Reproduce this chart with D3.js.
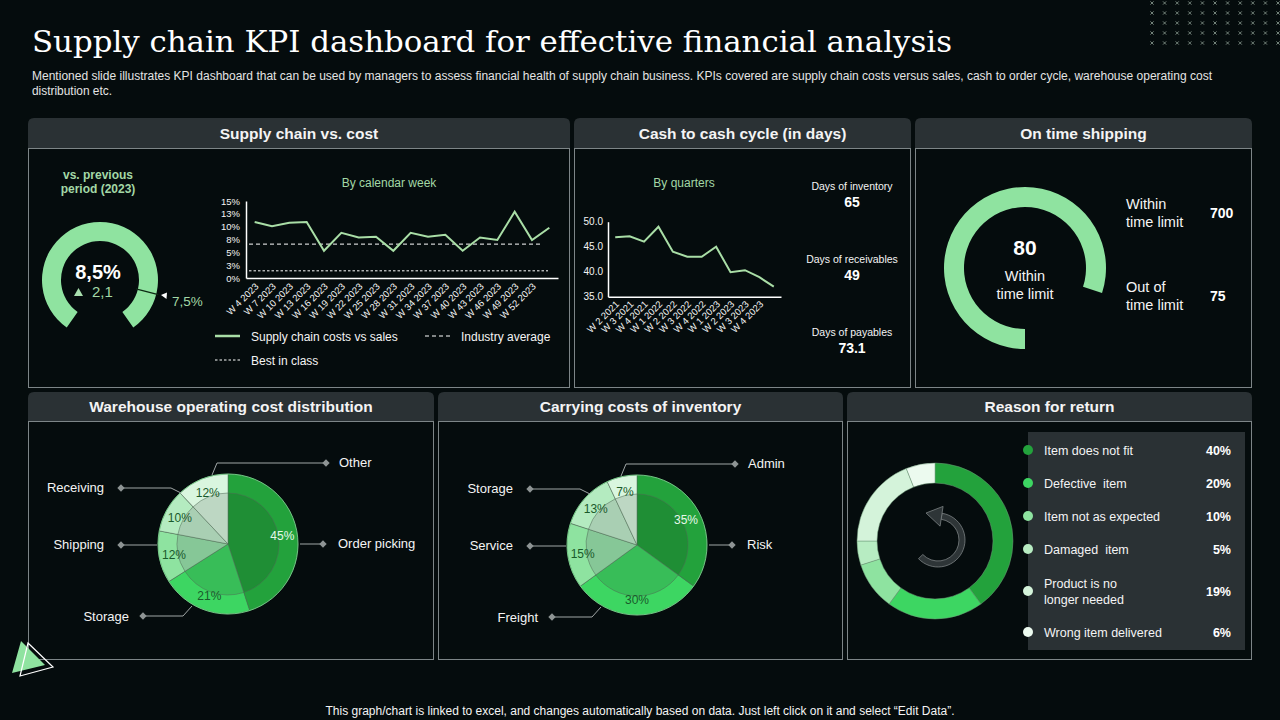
<!DOCTYPE html>
<html><head><meta charset="utf-8">
<script src="https://cdn.jsdelivr.net/npm/d3@7"></script>
<style>
html,body{margin:0;padding:0;background:#050c0d;}
svg{display:block;font-family:"Liberation Sans",Arial,sans-serif;}
</style></head><body>
<svg id="c" width="1280" height="720"></svg>
<script>
// ---------------- DATA ----------------
const titleText = "Supply chain KPI dashboard for effective financial analysis";
const subtitleLines = [
  "Mentioned slide illustrates KPI dashboard that can be used by managers to assess financial health of supply chain business. KPIs covered are supply chain costs versus sales, cash to order cycle,  warehouse operating cost",
  "distribution etc."
];
const footnote = "This graph/chart is linked to excel,  and changes automatically based on data. Just left click on it and select \u201CEdit Data\u201D.";
const panelTitles = ["Supply chain vs. cost", "Cash to cash cycle (in days)", "On time shipping",
  "Warehouse operating cost distribution", "Carrying costs of inventory", "Reason for return"];

// Supply chain vs cost
const gaugeValueLabel = "8,5%";
const gaugeChangeLabel = "2,1";
const gaugeTargetLabel = "7,5%";
const gaugeCaption = ["vs. previous", "period (2023)"];
const supplyWeeks = ["W 4 2023","W 7 2023","W 10 2023","W 13 2023","W 16 2023","W 19 2023","W 22 2023",
  "W 25 2023","W 28 2023","W 31 2023","W 34 2023","W 37 2023","W 40 2023","W 43 2023","W 46 2023",
  "W 49 2023","W 52 2023",""];
const supplyCostVsSales = [10.9,10.1,10.75,10.9,5.3,8.8,7.9,8.05,5.3,8.8,8.05,8.4,5.3,7.9,7.4,12.9,7.4,9.8];
const industryAverage = 6.6;
const bestInClass = 1.4;
const supplyTicks = [0,2.5,5,7.5,10,12.5,15];
const supplyTickLabels = ["0%","3%","5%","8%","10%","13%","15%"];
const supplyLegend = ["Supply chain costs vs sales","Industry average","Best in class"];

// Cash to cash cycle
const cashQuarters = ["W 2 2021","W 3 2021","W 4 2021","W 1 2022","W 2 2022","W 3 2022","W 4 2022",
  "W 1 2023","W 2 2023","W 3 2023","W 4 2023",""];
const cashDays = [46.9,47.1,46.0,49.0,44.0,43.0,43.0,45.0,39.9,40.3,38.9,37.0];
const cashTicks = [35,40,45,50];
const cashTickLabels = ["35.0","40.0","45.0","50.0"];
const cashKpiLabels = ["Days of inventory","Days of receivables","Days of payables"];
const cashKpiValues = ["65","49","73.1"];

// On time shipping
const shippingPct = 80;
const shippingLabels = [["Within","time limit"],["Out of","time limit"]];
const shippingValues = [700, 75];

// Warehouse operating cost distribution
const warehouseCats = ["Order picking","Storage","Shipping","Receiving","Other"];
const warehouseVals = [45,21,12,10,12];
// Carrying costs of inventory
const carryingCats = ["Risk","Freight","Service","Storage","Admin"];
const carryingVals = [35,30,15,13,7];
// Reason for return
const returnCats = ["Item does not fit","Defective  item","Item not as expected","Damaged  item","Product is no longer needed","Wrong item delivered"];
const returnVals = [40,20,10,5,19,6];

// ---------------- STYLE ----------------
const BG = "#050c0d", HEAD = "#2a3134", BORDER = "#7d8587", WHITE = "#f4f4f4";
const LGREEN = "#8fe3a0", TGREEN = "#a3d8a6", LINEGREEN = "#a9dea6";
const outerCols = ["#23a23c","#3dd662","#8ee3a0","#b4ebc0","#d9f6df"];
const innerCols = ["#1f8e35","#38bd58","#86c797","#a9cfb3","#bdd7c3"];
const returnCols = ["#23a23c","#3dd662","#8ee3a0","#b7ecc2","#d4f3da","#ecfaef"];

const svg = d3.select("#c");
svg.append("rect").attr("width",1280).attr("height",720).attr("fill",BG);

// decoration: grid of x marks
const decoCols = d3.range(11), decoRows = d3.range(5);
const deco = svg.append("g").attr("stroke","#8fa196").attr("stroke-width",0.8);
decoRows.forEach(r => decoCols.forEach(c => {
  const cx = 1152 + c*12.6, cy = 3 + r*10;
  deco.append("line").attr("x1",cx-1.6).attr("y1",cy-1.6).attr("x2",cx+1.6).attr("y2",cy+1.6);
  deco.append("line").attr("x1",cx-1.6).attr("y1",cy+1.6).attr("x2",cx+1.6).attr("y2",cy-1.6);
}));

// header
svg.append("text").attr("x",32).attr("y",52).text(titleText)
  .attr("fill","#ffffff").attr("font-family","'DejaVu Serif',serif").attr("font-size",30)
  .attr("textLength",920).attr("lengthAdjust","spacingAndGlyphs");
svg.append("text").attr("x",32).attr("y",80).text(subtitleLines[0])
  .attr("fill","#e4e4e4").attr("font-size",12).attr("textLength",1180).attr("lengthAdjust","spacingAndGlyphs");
svg.append("text").attr("x",32).attr("y",95).text(subtitleLines[1])
  .attr("fill","#e4e4e4").attr("font-size",12).attr("textLength",80).attr("lengthAdjust","spacingAndGlyphs");

// panels
const panels = [
  {x:28,y:118,w:542,hh:30,bh:240},{x:574,y:118,w:337,hh:30,bh:240},{x:915,y:118,w:337,hh:30,bh:240},
  {x:28,y:392,w:406,hh:29,bh:239},{x:438,y:392,w:405,hh:29,bh:239},{x:847,y:392,w:405,hh:29,bh:239}
];
panels.forEach((p,i) => {
  const r = 6;
  svg.append("path").attr("fill",HEAD)
    .attr("d",`M${p.x},${p.y+p.hh}V${p.y+r}Q${p.x},${p.y} ${p.x+r},${p.y}H${p.x+p.w-r}Q${p.x+p.w},${p.y} ${p.x+p.w},${p.y+r}V${p.y+p.hh}Z`);
  svg.append("rect").attr("x",p.x+0.5).attr("y",p.y+p.hh+0.5).attr("width",p.w-1).attr("height",p.bh-1)
    .attr("fill",BG).attr("stroke",BORDER).attr("stroke-width",1);
  svg.append("text").attr("x",p.x+p.w/2).attr("y",p.y+p.hh/2+5.5).attr("text-anchor","middle")
    .attr("fill",WHITE).attr("font-weight","bold").attr("font-size",15.5).text(panelTitles[i]);
});

// ---------------- Panel 1: gauge ----------------
const gC = [100,280];
const gauge = svg.append("g").attr("transform",`translate(${gC[0]},${gC[1]})`);
const deg = Math.PI/180;
gauge.append("path").attr("fill",LGREEN)
  .attr("d",d3.arc()({innerRadius:39,outerRadius:58,startAngle:-145*deg,endAngle:145*deg}));
const tA = 104*deg;
gauge.append("line").attr("x1",37*Math.sin(tA)).attr("y1",-37*Math.cos(tA))
  .attr("x2",60*Math.sin(tA)).attr("y2",-60*Math.cos(tA)).attr("stroke","#0d2a14").attr("stroke-width",1.3);
svg.append("path").attr("d","M161,295L167,292.5L166.5,299Z").attr("fill","#ffffff");
svg.append("text").attr("x",172).attr("y",306).attr("fill",TGREEN).attr("font-size",13.5).text(gaugeTargetLabel);
svg.append("text").attr("x",98).attr("y",279).attr("text-anchor","middle").attr("fill","#ffffff")
  .attr("font-weight","bold").attr("font-size",20).text(gaugeValueLabel);
svg.append("path").attr("d","M74,296L83,296L78.5,288Z").attr("fill","#a8dfae");
svg.append("text").attr("x",92).attr("y",297).attr("fill",TGREEN).attr("font-size",15).text(gaugeChangeLabel);
gaugeCaption.forEach((t,i)=>svg.append("text").attr("x",98).attr("y",179+i*14).attr("text-anchor","middle")
  .attr("fill",TGREEN).attr("font-weight","bold").attr("font-size",12).text(t));

// ---------------- Panel 1: line chart ----------------
svg.append("text").attr("x",389).attr("y",187).attr("text-anchor","middle").attr("fill",TGREEN)
  .attr("font-size",12).text("By calendar week");
const sx = d3.scalePoint().domain(supplyWeeks).range([246,558]).padding(0.5);
const sy = d3.scaleLinear().domain([0,15]).range([278,201]);
const sgL = svg.append("g").attr("transform","translate(246,0)")
  .call(d3.axisLeft(sy).tickValues(supplyTicks).tickFormat((d,i)=>supplyTickLabels[i]).tickSize(0).tickPadding(6));
const sgB = svg.append("g").attr("transform","translate(0,278)")
  .call(d3.axisBottom(sx).tickSize(0));
[sgL,sgB].forEach(g=>{g.select(".domain").attr("stroke","#ffffff").attr("stroke-width",1.5);
  g.selectAll("text").attr("fill",WHITE).attr("font-size",9.5).attr("font-family","'Liberation Sans',Arial,sans-serif");});
sgB.selectAll(".tick text").attr("x",0).attr("y",0).attr("dy",0)
  .attr("transform","translate(4,9) rotate(-45)").style("text-anchor","end");
svg.append("line").attr("x1",249).attr("x2",540).attr("y1",sy(industryAverage)).attr("y2",sy(industryAverage))
  .attr("stroke","#ffffff").attr("stroke-width",1).attr("stroke-dasharray","4,3");
svg.append("line").attr("x1",249).attr("x2",548).attr("y1",sy(bestInClass)).attr("y2",sy(bestInClass))
  .attr("stroke","#ffffff").attr("stroke-width",1).attr("stroke-dasharray","2.5,2");
svg.append("path").datum(supplyCostVsSales)
  .attr("d",d3.line().x((d,i)=>sx(supplyWeeks[i])).y(d=>sy(d)))
  .attr("fill","none").attr("stroke",LINEGREEN).attr("stroke-width",2);
// legend
svg.append("line").attr("x1",215).attr("x2",240).attr("y1",336).attr("y2",336).attr("stroke",LINEGREEN).attr("stroke-width",2.5);
svg.append("text").attr("x",251).attr("y",341).attr("fill",WHITE).attr("font-size",12).text(supplyLegend[0]);
svg.append("line").attr("x1",425).attr("x2",450).attr("y1",336).attr("y2",336).attr("stroke","#fff").attr("stroke-dasharray","4,3");
svg.append("text").attr("x",461).attr("y",341).attr("fill",WHITE).attr("font-size",12).text(supplyLegend[1]);
svg.append("line").attr("x1",215).attr("x2",240).attr("y1",360).attr("y2",360).attr("stroke","#fff").attr("stroke-dasharray","2.5,2");
svg.append("text").attr("x",251).attr("y",365).attr("fill",WHITE).attr("font-size",12).text(supplyLegend[2]);

// ---------------- Panel 2: cash cycle ----------------
svg.append("text").attr("x",684).attr("y",187).attr("text-anchor","middle").attr("fill",TGREEN)
  .attr("font-size",12).text("By quarters");
const cx = d3.scalePoint().domain(cashQuarters).range([608,781]).padding(0.5);
const cy = d3.scaleLinear().domain([35,50]).range([296.7,221.7]);
const cgL = svg.append("g").attr("transform","translate(608,0)")
  .call(d3.axisLeft(cy).tickValues(cashTicks).tickFormat((d,i)=>cashTickLabels[i]).tickSize(0).tickPadding(5));
const cgB = svg.append("g").attr("transform","translate(0,296.7)").call(d3.axisBottom(cx).tickSize(0));
[cgL,cgB].forEach(g=>{g.select(".domain").attr("stroke","#ffffff").attr("stroke-width",1.5);
  g.selectAll("text").attr("fill",WHITE).attr("font-size",9.5).attr("font-family","'Liberation Sans',Arial,sans-serif");});
cgL.selectAll("text").attr("font-size",10);
cgB.selectAll(".tick text").attr("x",0).attr("y",0).attr("dy",0)
  .attr("transform","translate(4,8) rotate(-45)").style("text-anchor","end");
svg.append("path").datum(cashDays)
  .attr("d",d3.line().x((d,i)=>cx(cashQuarters[i])).y(d=>cy(d)))
  .attr("fill","none").attr("stroke",LINEGREEN).attr("stroke-width",2);
const kpiY = [190,263,336];
cashKpiLabels.forEach((t,i)=>{
  svg.append("text").attr("x",852).attr("y",kpiY[i]).attr("text-anchor","middle").attr("fill",WHITE).attr("font-size",10.5).text(t);
  svg.append("text").attr("x",852).attr("y",kpiY[i]+17).attr("text-anchor","middle").attr("fill","#ffffff")
    .attr("font-weight","bold").attr("font-size",14).text(cashKpiValues[i]);
});

// ---------------- Panel 3: on-time shipping ----------------
const osC = [1025,268];
svg.append("path").attr("transform",`translate(${osC[0]},${osC[1]})`).attr("fill",LGREEN)
  .attr("d",d3.arc()({innerRadius:61,outerRadius:81,startAngle:Math.PI,endAngle:Math.PI+2*Math.PI*shippingPct/100}));
svg.append("text").attr("x",osC[0]).attr("y",255).attr("text-anchor","middle").attr("fill","#fff")
  .attr("font-weight","bold").attr("font-size",21).text(shippingPct);
["Within","time limit"].forEach((t,i)=>svg.append("text").attr("x",osC[0]).attr("y",281+i*18)
  .attr("text-anchor","middle").attr("fill",WHITE).attr("font-size",14.5).text(t));
const osY = [209,292];
shippingLabels.forEach((ls,i)=>{
  ls.forEach((t,j)=>svg.append("text").attr("x",1126).attr("y",osY[i]+j*18).attr("fill",WHITE).attr("font-size",14.5).text(t));
  svg.append("text").attr("x",1210).attr("y",osY[i]+9).attr("fill","#fff").attr("font-weight","bold").attr("font-size",14).text(shippingValues[i]);
});

// ---------------- Pies ----------------
const leaderLayout = [
  {pts:[[72,0],[95,0]], tx:110, ty:4, anchor:"start"},
  {pts:[[-36,62],[-45,72],[-85,72]], tx:-99, ty:77, anchor:"end"},
  {pts:[[-71,1],[-107,1]], tx:-124, ty:5, anchor:"end"},
  {pts:[[-47,-51],[-57,-56],[-107,-56]], tx:-124, ty:-52, anchor:"end"},
  {pts:[[-16,-69],[-11,-81],[98,-81]], tx:111, ty:-77, anchor:"start"}
];
function drawPie(center, cats, vals){
  const g = svg.append("g").attr("transform",`translate(${center[0]},${center[1]})`);
  const arcs = d3.pie().sort(null)(vals);
  const outer = d3.arc().innerRadius(0).outerRadius(70);
  const inner = d3.arc().innerRadius(0).outerRadius(51);
  g.selectAll("path.o").data(arcs).join("path").attr("class","o").attr("d",outer)
    .attr("fill",(d,i)=>outerCols[i]).attr("stroke","#4f6a55").attr("stroke-width",0.5);
  g.selectAll("path.i").data(arcs).join("path").attr("class","i").attr("d",inner)
    .attr("fill",(d,i)=>innerCols[i]).attr("stroke","#4f6a55").attr("stroke-width",0.5);
  g.append("circle").attr("r",70).attr("fill","none").attr("stroke","#7fe093").attr("stroke-width",0.8);
  const lab = d3.arc().innerRadius(55).outerRadius(55);
  g.selectAll("text.p").data(arcs).join("text").attr("class","p")
    .attr("transform",d=>`translate(${lab.centroid(d)})`).attr("dy","0.35em").attr("text-anchor","middle")
    .attr("font-size",12).attr("fill",(d,i)=>i===0?"#e6f8ea":"#1a5a2b").text(d=>d.data+"%");
  cats.forEach((c,i)=>{
    const L = leaderLayout[i];
    g.append("path").attr("d",d3.line()(L.pts)).attr("fill","none").attr("stroke","#a0a6a6").attr("stroke-width",1);
    const dp = L.pts[L.pts.length-1];
    g.append("rect").attr("x",-2.6).attr("y",-2.6).attr("width",5.2).attr("height",5.2)
      .attr("transform",`translate(${dp[0]},${dp[1]}) rotate(45)`).attr("fill","#8e9494");
    g.append("text").attr("x",L.tx).attr("y",L.ty).attr("text-anchor",L.anchor)
      .attr("fill",WHITE).attr("font-size",13).text(c);
  });
}
drawPie([228,544], warehouseCats, warehouseVals);
drawPie([637,545], carryingCats, carryingVals);

// ---------------- Panel 6: reason for return ----------------
const rC = [935,541];
const rg = svg.append("g").attr("transform",`translate(${rC[0]},${rC[1]})`);
const rArcs = d3.pie().sort(null)(returnVals);
rg.selectAll("path").data(rArcs).join("path")
  .attr("d",d3.arc().innerRadius(58).outerRadius(78))
  .attr("fill",(d,i)=>returnCols[i]).attr("stroke","#6f9a79").attr("stroke-width",0.5);
// circular arrow icon
const ag = svg.append("g").attr("transform","translate(938,540)");
ag.append("path").attr("d",d3.arc()({innerRadius:21,outerRadius:27,startAngle:0.15,endAngle:3.95}))
  .attr("fill","#2e3537").attr("stroke","#7b8183").attr("stroke-width",0.8);
ag.append("path").attr("d","M"+(Math.sin(0.15)*14)+","+(-Math.cos(0.15)*14)+
  "L"+(Math.sin(0.15)*34)+","+(-Math.cos(0.15)*34)+"L"+(-12)+","+(-27)+"Z")
  .attr("fill","#2e3537").attr("stroke","#7b8183").attr("stroke-width",0.8).attr("stroke-linejoin","round");
svg.append("rect").attr("x",1028).attr("y",432).attr("width",217).attr("height",218).attr("fill",HEAD);
const rowY = [450,483,516,549,591,632];
returnCats.forEach((c,i)=>{
  svg.append("circle").attr("cx",1028).attr("cy",rowY[i]).attr("r",5).attr("fill",returnCols[i]);
  if(i===4){
    svg.append("text").attr("x",1044).attr("y",rowY[i]-3.5).attr("fill",WHITE).attr("font-size",12.5).text("Product is no");
    svg.append("text").attr("x",1044).attr("y",rowY[i]+12.5).attr("fill",WHITE).attr("font-size",12.5).text("longer needed");
  } else {
    svg.append("text").attr("x",1044).attr("y",rowY[i]+4.5).attr("fill",WHITE).attr("font-size",12.5)
      .attr("xml:space","preserve").style("white-space","pre").text(c);
  }
  svg.append("text").attr("x",1231).attr("y",rowY[i]+4.5).attr("text-anchor","end").attr("fill","#fff")
    .attr("font-weight","bold").attr("font-size",12.5).text(returnVals[i]+"%");
});

// bottom-left decoration
svg.append("path").attr("d","M21,641L45,665L12,673Z").attr("fill",LGREEN);
svg.append("path").attr("d","M28,643L53,667L20,676Z").attr("fill","none").attr("stroke","#ffffff").attr("stroke-width",1.2);

// footnote
svg.append("text").attr("x",640).attr("y",715).attr("text-anchor","middle").attr("fill",WHITE)
  .attr("font-size",12).attr("textLength",629).attr("lengthAdjust","spacingAndGlyphs").text(footnote);
</script>
</body></html>
